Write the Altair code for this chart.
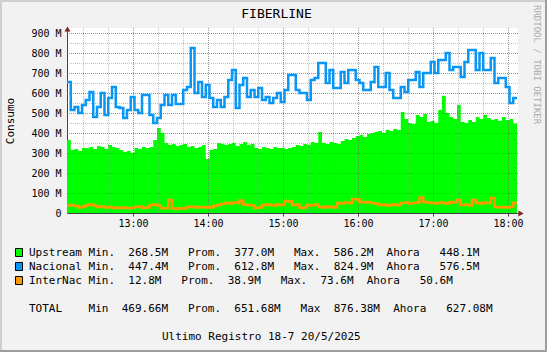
import altair as alt
import pandas as pd

# ---------------- data (M units, 3-minute samples from 12:07) -------------
upstream = [365, 315, 320, 310, 325, 325, 330, 320, 335, 330,
            320, 340, 330, 325, 315, 305, 310, 300, 325, 320,
            330, 325, 330, 365, 425, 400, 350, 340, 345, 335,
            340, 345, 330, 335, 325, 330, 340, 270, 315, 320,
            350, 345, 340, 345, 350, 335, 345, 355, 340, 345,
            325, 320, 330, 325, 320, 330, 325, 325, 320, 325,
            330, 340, 335, 345, 340, 355, 350, 405, 350, 345,
            355, 350, 345, 360, 370, 365, 375, 385, 390, 380,
            395, 400, 405, 410, 400, 415, 410, 420, 415, 505,
            470, 450, 445, 490, 480, 495, 455, 460, 450, 515,
            586, 500, 480, 470, 540, 455, 450, 465, 455, 480,
            470, 490, 475, 465, 470, 460, 480, 465, 470, 448]

nacional = [655, 515, 530, 500, 540, 565, 605, 480, 530, 600,
            490, 575, 630, 530, 525, 475, 515, 580, 515, 500,
            590, 590, 490, 450, 475, 540, 590, 540, 590, 545,
            545, 615, 630, 825, 600, 655, 580, 640, 575, 530,
            565, 530, 580, 665, 715, 525, 640, 675, 580, 615,
            580, 625, 565, 580, 550, 575, 600, 555, 615, 690,
            690, 615, 600, 600, 565, 665, 675, 750, 750, 650,
            715, 625, 625, 705, 650, 715, 715, 665, 650, 615,
            615, 655, 730, 630, 630, 700, 615, 575, 575, 630,
            605, 665, 665, 705, 630, 700, 700, 755, 700, 765,
            765, 800, 715, 730, 730, 680, 755, 815, 815, 715,
            800, 715, 715, 775, 650, 675, 675, 630, 550, 575]

internac = [38, 40, 35, 28, 32, 40, 42, 38, 30, 32,
            28, 30, 25, 28, 25, 27, 24, 26, 30, 32,
            25, 27, 40, 42, 38, 25, 24, 65, 22, 20,
            24, 22, 30, 32, 28, 30, 28, 30, 27, 35,
            40, 45, 50, 48, 52, 50, 62, 42, 40, 38,
            25, 27, 40, 42, 40, 38, 42, 40, 60, 58,
            40, 42, 25, 27, 40, 38, 42, 30, 28, 32,
            30, 28, 50, 48, 52, 50, 70, 68, 55, 52,
            55, 50, 48, 40, 42, 38, 40, 42, 40, 50,
            52, 48, 50, 52, 77, 55, 52, 50, 48, 52,
            50, 48, 55, 52, 65, 40, 42, 38, 65, 50,
            48, 52, 50, 75, 30, 28, 30, 27, 30, 50]

start_min = 7.2      # minutes after 12:00 of the first sample
step_min = 3.0
x_domain = [7.2, 368.0]
y_domain = [0, 925]

hour_ticks = [60, 120, 180, 240, 300, 360]
minor_x = [20, 40, 80, 100, 140, 160, 200, 220, 260, 280, 320, 340]
y_ticks = [0, 100, 200, 300, 400, 500, 600, 700, 800, 900]
minor_y = [50, 150, 250, 350, 450, 550, 650, 750, 850]

title_text = "FIBERLINE"
y_title = "Consumo"
credit = "RRDTOOL / TOBI OETIKER"
legend_rows = [
    ("Upstream Min.  268.5M   Prom.  377.0M   Max.  586.2M  Ahora   448.1M", "#00FF00"),
    ("Nacional Min.  447.4M   Prom.  612.8M   Max.  824.9M  Ahora   576.5M", "#0A96F5"),
    ("InterNac Min.  12.8M   Prom.  38.9M   Max.  73.6M  Ahora   50.6M", "#FF9900"),
]
total_row = "TOTAL    Min  469.66M   Prom.  651.68M   Max  876.38M  Ahora   627.08M"
footer = "Ultimo Registro 18-7 20/5/2025"

# ---------------- build table ----------------
n = len(upstream)
times = [start_min + step_min * i for i in range(n + 1)]
df = pd.DataFrame({
    "t": times,
    "up": upstream + [upstream[-1]],
    "nac": nacional + [nacional[-1]],
    "intl": internac + [internac[-1]],
})

MONO = "DejaVu Sans Mono"
L, T = 67, 28           # plot origin on canvas
W, H = 451, 185
CW, CH = 547, 352

xs = alt.Scale(domain=x_domain, nice=False, zero=False)
ys = alt.Scale(domain=y_domain, nice=False)

base = alt.Chart(df)

area = base.mark_area(interpolate="step-after", color="#00FF00").encode(
    x=alt.X("t:Q", scale=xs, title=None,
            axis=alt.Axis(values=hour_ticks, grid=False,
                          labelExpr="(12 + datum.value/60) + ':00'",
                          labelFont=MONO, labelFontSize=10, labelColor="#000000",
                          labelPadding=2, tickSize=3, tickColor="#404040",
                          domainColor="#404040")),
    y=alt.Y("up:Q", scale=ys, title=None,
            axis=alt.Axis(values=y_ticks, grid=False,
                          labelExpr="datum.value == 0 ? '0' : datum.value + ' M'",
                          labelFont=MONO, labelFontSize=10, labelColor="#000000",
                          ticks=False, labelPadding=6, domainColor="#404040")),
)

line_nac = base.mark_line(interpolate="step-after", color="#0A96F5", strokeWidth=2.5,
                          strokeJoin="miter").encode(
    x=alt.X("t:Q", scale=xs, axis=None), y=alt.Y("nac:Q", scale=ys, axis=None))
line_int = base.mark_line(interpolate="step-after", color="#FF9900", strokeWidth=2.5,
                          strokeJoin="miter").encode(
    x=alt.X("t:Q", scale=xs, axis=None), y=alt.Y("intl:Q", scale=ys, axis=None))


def grid_rules(vals, channel, color, opacity):
    d = pd.DataFrame({"v": vals})
    if channel == "y":
        return alt.Chart(d).mark_rule(color=color, opacity=opacity, strokeDash=[1, 1],
                                      strokeWidth=1, yOffset=0.5).encode(
            y=alt.Y("v:Q", scale=ys, axis=None))
    return alt.Chart(d).mark_rule(color=color, opacity=opacity, strokeDash=[1, 1],
                                  strokeWidth=1, xOffset=0.5).encode(
        x=alt.X("v:Q", scale=xs, axis=None))


grids = [
    grid_rules(minor_y, "y", "#8C8C8C", 0.55),
    grid_rules(minor_x, "x", "#8C8C8C", 0.55),
    grid_rules(y_ticks[1:], "y", "#707070", 0.75),
    grid_rules(hour_ticks, "x", "#707070", 0.75),
]


def txt(s, x, y, size=11, align="left", angle=0, color="#000000"):
    return alt.Chart(pd.DataFrame({"s": [s.replace(" ", "\u00a0")]})).mark_text(
        align=align, baseline="middle", font=MONO, fontSize=size, angle=angle, color=color
    ).encode(x=alt.value(x - L), y=alt.value(y - T), text="s:N")


def box(x1, y1, x2, y2, fill, stroke=None):
    kw = dict(fill=fill)
    if stroke:
        kw.update(stroke=stroke, strokeWidth=1)
    else:
        kw.update(strokeWidth=0)
    return alt.Chart(pd.DataFrame({"a": [0]})).mark_rect(**kw).encode(
        x=alt.value(x1 - L), x2=alt.value(x2 - L), y=alt.value(y1 - T), y2=alt.value(y2 - T))


deco = []
# frame shading
deco.append(box(0, 0, CW, 2, "#CFCFCF"))
deco.append(box(0, 0, 2, CH, "#CFCFCF"))
deco.append(box(0, CH - 2, CW, CH, "#9E9E9E"))
deco.append(box(CW - 2, 0, CW, CH, "#9E9E9E"))

# arrows
arrow_up = alt.Chart(pd.DataFrame({"a": [0]})).mark_point(
    shape="triangle-up", filled=True, size=36, color="#801F1F", opacity=1).encode(
    x=alt.value(0.5), y=alt.value(1))
arrow_right = alt.Chart(pd.DataFrame({"a": [0]})).mark_point(
    shape="triangle-right", filled=True, size=36, color="#801F1F", opacity=1).encode(
    x=alt.value(521 - L), y=alt.value(H + 0.5))

texts = [
    txt(title_text, 276.5, 13.5, size=13, align="center"),
    txt(y_title, 11, 121, size=11, align="center", angle=270),
    txt(credit, 537, 5, size=9, align="left", angle=90, color="#AAAAAA"),
]
row_y = [252.5, 266.5, 280.5]
for (s, c), yy in zip(legend_rows, row_y):
    deco.append(box(15.5, yy - 4, 22.5, yy + 4, c, stroke="#000000"))
    texts.append(txt(s, 29, yy))
texts.append(txt(total_row, 29, 308.5))
texts.append(txt(footer, 162, 336.5))

chart = alt.layer(
    area, *grids, line_int, line_nac, arrow_up, arrow_right, *deco, *texts
).resolve_axis(x="independent", y="independent").properties(
    width=W, height=H,
    autosize=alt.AutoSizeParams(type="none"),
    padding={"left": L, "top": T, "right": CW - L - W, "bottom": CH - T - H},
).configure(background="#F2F2F2").configure_view(fill="white", strokeWidth=0)

chart.save("out.html", embed_options={"renderer": "svg", "actions": False})
